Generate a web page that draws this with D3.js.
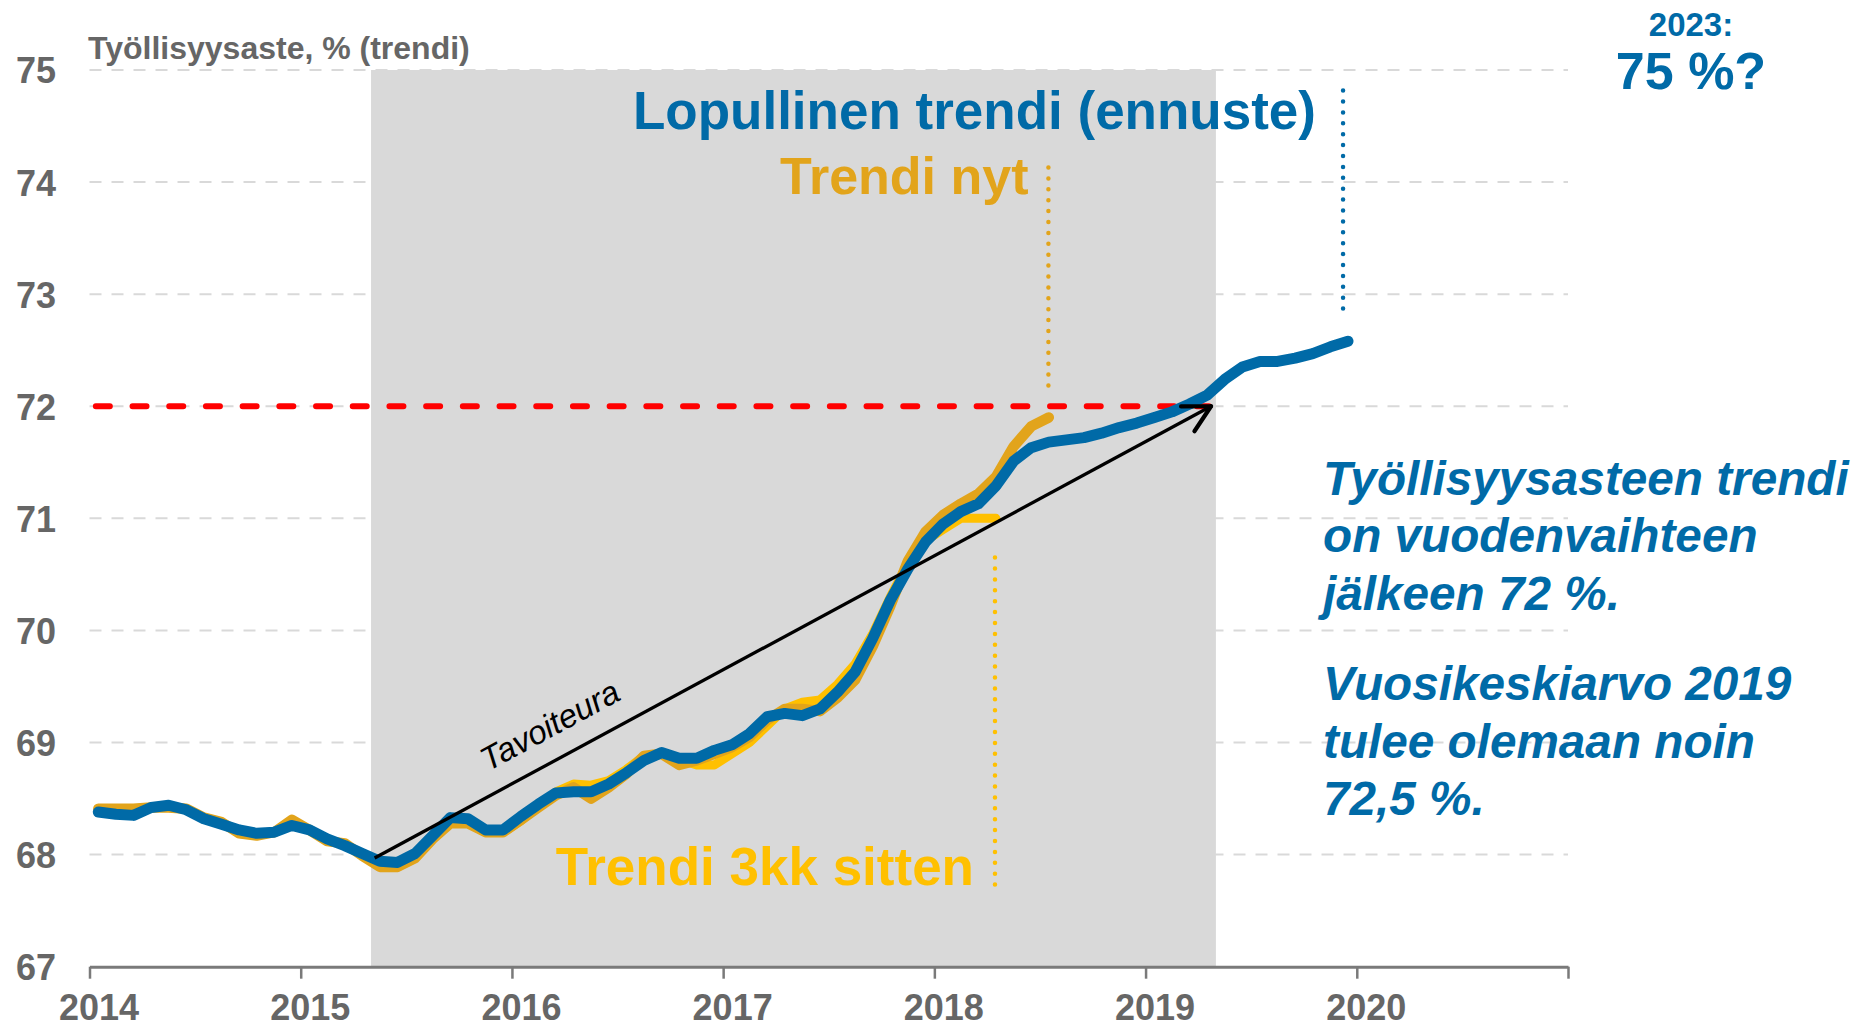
<!DOCTYPE html>
<html><head><meta charset="utf-8">
<script src="https://cdn.jsdelivr.net/npm/d3@7/dist/d3.min.js"></script>
<style>
body{margin:0;background:#fff}
svg{display:block}
text{font-family:"Liberation Sans",Arial,sans-serif}
</style>
</head><body>
<svg id="chart" width="1875" height="1029"></svg>
<script>
// ---- DATA ----
const startYear = 2014;            // first monthly value = Jan 2014
const xTickValues = [2014, 2015, 2016, 2017, 2018, 2019, 2020, 2021];
const xTickLabels = ["2014", "2015", "2016", "2017", "2018", "2019", "2020", ""];
const yTickValues = [67, 68, 69, 70, 71, 72, 73, 74, 75];

// Lopullinen trendi (ennuste), Jan 2014 - Dec 2019
const finalTrend = [
  68.38, 68.36, 68.35, 68.42, 68.44, 68.40, 68.32, 68.27, 68.22, 68.19, 68.20, 68.26,
  68.22, 68.14, 68.08, 68.01, 67.94, 67.93, 68.01, 68.17, 68.33, 68.32, 68.22, 68.22,
  68.34, 68.45, 68.55, 68.56, 68.56, 68.63, 68.73, 68.84, 68.91, 68.86, 68.86, 68.93,
  68.98, 69.08, 69.23, 69.26, 69.24, 69.30, 69.45, 69.63, 69.93, 70.27, 70.55, 70.79,
  70.95, 71.06, 71.13, 71.29, 71.51, 71.63, 71.68, 71.70, 71.72, 71.76, 71.81, 71.85,
  71.90, 71.95, 72.02, 72.10, 72.24, 72.35, 72.40, 72.40, 72.43, 72.47, 72.53, 72.58
];
// Trendi nyt, Jan 2014 - Jul 2018
const trendNow = [
  68.41, 68.41, 68.41, 68.42, 68.42, 68.41, 68.33, 68.29, 68.19, 68.17, 68.20, 68.31,
  68.22, 68.12, 68.10, 67.99, 67.89, 67.89, 67.97, 68.14, 68.28, 68.28, 68.20, 68.20,
  68.31, 68.42, 68.53, 68.60, 68.50, 68.60, 68.72, 68.88, 68.90, 68.80, 68.84, 68.90,
  68.96, 69.05, 69.20, 69.30, 69.30, 69.28, 69.40, 69.56, 69.86, 70.22, 70.62, 70.88,
  71.03, 71.13, 71.22, 71.37, 71.64, 71.82, 71.90
];
// Trendi 3kk sitten, Jan 2014 - Apr 2018
const trend3m = [
  68.41, 68.41, 68.41, 68.42, 68.42, 68.41, 68.33, 68.29, 68.19, 68.17, 68.20, 68.31,
  68.22, 68.12, 68.10, 67.99, 67.89, 67.89, 67.97, 68.14, 68.28, 68.28, 68.20, 68.20,
  68.30, 68.43, 68.56, 68.63, 68.62, 68.66, 68.76, 68.88, 68.90, 68.85, 68.80, 68.80,
  68.90, 69.00, 69.15, 69.30, 69.36, 69.38, 69.52, 69.70, 69.97, 70.30, 70.60, 70.80,
  70.90, 71.00, 71.00, 71.00
];
const targetLevel = 72;
const targetSpan = [2014.03, 2019.30];
const shadedPeriod = [2015.333, 2019.333];
const arrowFrom = [2015.35, 67.97];
const arrowTo = [2019.31, 72.0];

// ---- LAYOUT ----
const svg = d3.select("#chart");
const BLUE = "#006AA7", ORANGE = "#E2A41B", YELLOW = "#FFC000", GREY = "#666666";
const x = d3.scaleLinear().domain([2014, 2021]).range([89.5, 1568]);
const y = d3.scaleLinear().domain([67, 75]).range([966.7, 70]);
const monthX = i => startYear + (i + 0.5) / 12;

// gridlines
svg.append("g").selectAll("line").data(yTickValues.filter(v => v > 67)).join("line")
  .attr("x1", x(2014)).attr("x2", x(2021))
  .attr("y1", d => y(d)).attr("y2", d => y(d))
  .attr("stroke", "#D9D9D9").attr("stroke-width", 2).attr("stroke-dasharray", "12 10");

// shaded period
svg.append("rect")
  .attr("x", x(shadedPeriod[0])).attr("width", x(shadedPeriod[1]) - x(shadedPeriod[0]))
  .attr("y", y(75)).attr("height", y(67) - y(75))
  .attr("fill", "#D9D9D9");

// target dashed line
svg.append("line")
  .attr("x1", x(targetSpan[0])).attr("x2", x(targetSpan[1]))
  .attr("y1", y(targetLevel)).attr("y2", y(targetLevel))
  .attr("stroke", "#FF0000").attr("stroke-width", 6)
  .attr("stroke-linecap", "round").attr("stroke-dasharray", "14 22.7");

// series lines
const line = d3.line().x((d, i) => x(monthX(i))).y(d => y(d));
[[trend3m, YELLOW, 9], [trendNow, ORANGE, 10.5], [finalTrend, BLUE, 11]].forEach(([data, col, w]) => {
  svg.append("path").datum(data).attr("d", line)
    .attr("fill", "none").attr("stroke", col).attr("stroke-width", w)
    .attr("stroke-linejoin", "round").attr("stroke-linecap", "round");
});

// target arrow
const ax1 = x(arrowFrom[0]), ay1 = y(arrowFrom[1]), ax2 = x(arrowTo[0]), ay2 = y(arrowTo[1]);
const ang = Math.atan2(ay2 - ay1, ax2 - ax1);
svg.append("line").attr("x1", ax1).attr("y1", ay1).attr("x2", ax2).attr("y2", ay2)
  .attr("stroke", "#000").attr("stroke-width", 3.3);
const headLen = 30, headAng = 28 * Math.PI / 180;
[ang + Math.PI - headAng, ang + Math.PI + headAng].forEach(a => {
  svg.append("line").attr("x1", ax2).attr("y1", ay2)
    .attr("x2", ax2 + headLen * Math.cos(a)).attr("y2", ay2 + headLen * Math.sin(a))
    .attr("stroke", "#000").attr("stroke-width", 4.2).attr("stroke-linecap", "round");
});
// Tavoiteura label
{
  const t = 0.148, off = 22;
  const px = ax1 + (ax2 - ax1) * t + off * Math.sin(ang);
  const py = ay1 + (ay2 - ay1) * t - off * Math.cos(ang);
  svg.append("text").attr("transform", `translate(${px},${py}) rotate(${ang * 180 / Math.PI})`)
    .attr("font-size", 33).attr("font-style", "italic").attr("fill", "#000").text("Tavoiteura");
}

// dotted guide lines
function dotted(xv, y1v, y2v, col) {
  svg.append("line").attr("x1", x(xv)).attr("x2", x(xv)).attr("y1", y(y1v)).attr("y2", y(y2v))
    .attr("stroke", col).attr("stroke-width", 4.5).attr("stroke-linecap", "round")
    .attr("stroke-dasharray", "0 10.9");
}
dotted(2019.935, 74.816, 72.85, BLUE);
dotted(2018.54, 74.13, 72.18, ORANGE);
dotted(2018.287, 70.65, 67.73, YELLOW);

// series labels
svg.append("text").attr("x", 1316).attr("y", 129).attr("text-anchor", "end")
  .attr("font-size", 53).attr("font-weight", "bold").attr("fill", BLUE).text("Lopullinen trendi (ennuste)");
svg.append("text").attr("x", 1028.5).attr("y", 194).attr("text-anchor", "end")
  .attr("font-size", 52).attr("font-weight", "bold").attr("fill", ORANGE).text("Trendi nyt");
svg.append("text").attr("x", 974).attr("y", 885).attr("text-anchor", "end")
  .attr("font-size", 53).attr("font-weight", "bold").attr("fill", YELLOW).text("Trendi 3kk sitten");

// x axis
const xAxis = d3.axisBottom(x).tickValues(xTickValues)
  .tickFormat((d, i) => xTickLabels[i]).tickSize(12).tickSizeOuter(0).tickPadding(16);
const gx = svg.append("g").attr("transform", `translate(0,${y(67)})`).call(xAxis);
gx.select(".domain").attr("stroke", "#7A7A7A").attr("stroke-width", 3);
gx.selectAll(".tick line").attr("stroke", "#7A7A7A").attr("stroke-width", 2.5);
gx.selectAll(".tick text").attr("font-size", 36).attr("font-weight", "bold")
  .attr("fill", GREY).attr("dx", 9).attr("font-family", "'Liberation Sans',Arial,sans-serif");

// y axis labels
const yAxis = d3.axisLeft(y).tickValues(yTickValues).tickSize(0).tickPadding(0);
const gy = svg.append("g").attr("transform", "translate(56,0)").call(yAxis);
gy.select(".domain").remove();
gy.selectAll(".tick text").attr("font-size", 36).attr("font-weight", "bold")
  .attr("fill", GREY).attr("dy", "0.36em").attr("font-family", "'Liberation Sans',Arial,sans-serif");

// axis title
svg.append("text").attr("x", 88).attr("y", 59).attr("font-size", 32).attr("font-weight", "bold")
  .attr("fill", GREY).text("Työllisyysaste, % (trendi)");

// 2023 goal
svg.append("text").attr("x", 1691).attr("y", 36).attr("text-anchor", "middle")
  .attr("font-size", 33).attr("font-weight", "bold").attr("fill", BLUE).text("2023:");
svg.append("text").attr("x", 1691).attr("y", 89).attr("text-anchor", "middle")
  .attr("font-size", 52).attr("font-weight", "bold").attr("fill", BLUE).text("75 %?");

// commentary
const commentLines = [
  ["Työllisyysasteen trendi", 495], ["on vuodenvaihteen", 552], ["jälkeen 72 %.", 610],
  ["Vuosikeskiarvo 2019", 700], ["tulee olemaan noin", 758], ["72,5 %.", 815]
];
svg.append("g").selectAll("text").data(commentLines).join("text")
  .attr("x", 1323).attr("y", d => d[1])
  .attr("font-size", 47.7).attr("font-weight", "bold").attr("font-style", "italic")
  .attr("fill", BLUE).text(d => d[0]);
</script>
</body></html>
